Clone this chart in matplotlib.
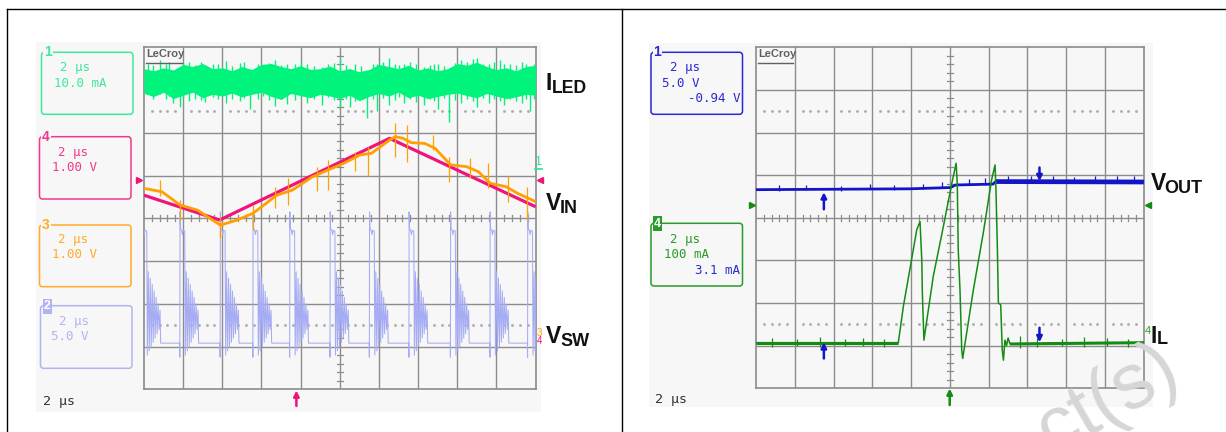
import matplotlib
matplotlib.use("Agg")
import matplotlib.pyplot as plt
from matplotlib.patches import FancyBboxPatch, Rectangle

# ---------------- data (time in us, 2 us/div; level in screen divisions, 0 = bottom, 8 = top) ----------------
iled_t = [0.0, 0.5, 1.0, 1.5, 2.0, 2.5, 3.0, 3.5, 4.0, 4.5, 5.0, 5.5, 6.0, 6.5, 7.0, 7.5, 8.0, 8.5, 9.0, 9.5,
          10.0, 10.5, 11.0, 11.5, 12.0, 12.5, 13.0, 13.5, 14.0, 14.5, 15.0, 15.5, 16.0, 16.5, 17.0, 17.5,
          18.0, 18.5, 19.0, 19.5, 20.0]
iled_hi = [7.50, 7.45, 7.52, 7.47, 7.60, 7.55, 7.62, 7.50, 7.52, 7.45, 7.55, 7.48, 7.60, 7.62, 7.55, 7.50,
           7.57, 7.48, 7.50, 7.56, 7.45, 7.50, 7.43, 7.48, 7.60, 7.55, 7.50, 7.58, 7.47, 7.52, 7.45, 7.50,
           7.62, 7.58, 7.65, 7.55, 7.48, 7.52, 7.45, 7.55, 7.58]
iled_lo = [6.92, 6.85, 6.95, 6.80, 6.88, 6.95, 6.82, 6.90, 6.86, 6.93, 6.84, 6.90, 6.95, 6.85, 6.78, 6.92,
           6.87, 6.82, 6.90, 6.86, 6.80, 6.88, 6.75, 6.85, 6.92, 6.86, 6.95, 6.82, 6.88, 6.80, 6.85, 6.90,
           6.93, 6.87, 6.82, 6.92, 6.86, 6.80, 6.84, 6.90, 6.88]
iled_spk_t = [0.2, 0.45, 0.8, 1.1, 1.3, 1.5, 1.82, 2.0, 2.3, 2.6, 2.9, 3.1, 3.5, 3.8, 4.2, 4.5, 4.9, 5.1,
              5.4, 5.8, 6.1, 6.4, 6.7, 7.0, 7.3, 7.7, 8.0, 8.3, 8.7, 9.1, 9.4, 9.7, 10.0, 10.3, 10.5, 10.8,
              11.1, 11.4, 11.7, 11.9, 12.2, 12.5, 12.8, 13.0, 13.3, 13.6, 13.9, 14.3, 14.6, 14.8, 15.0,
              15.3, 15.6, 15.9, 16.2, 16.5, 16.8, 17.0, 17.3, 17.6, 17.9, 18.2, 18.4, 18.7, 19.0, 19.3,
              19.5, 19.7, 19.9]
iled_spk_lo = [7.00, 6.80, 6.90, 6.78, 6.85, 6.70, 6.61, 6.82, 6.75, 6.80, 6.76, 6.72, 6.84, 6.78, 6.70,
               6.80, 6.74, 6.82, 6.55, 6.78, 6.85, 6.76, 6.62, 6.80, 6.68, 6.77, 6.83, 6.70, 6.79, 6.65,
               6.84, 6.76, 6.60, 6.80, 6.60, 6.74, 6.82, 6.34, 6.78, 6.50, 6.81, 6.65, 6.76, 6.84, 6.70,
               6.78, 6.72, 6.65, 6.80, 6.75, 6.55, 6.82, 6.26, 6.77, 6.70, 6.80, 6.74, 6.60, 6.82, 6.70,
               6.78, 6.75, 6.65, 6.80, 6.74, 6.70, 6.78, 6.50, 6.80]
iled_spk_hi = [7.62, 7.58, 7.70, 7.60, 7.66, 7.40, 7.30, 7.64, 7.66, 7.58, 7.65, 7.50, 7.62, 7.60, 7.68,
               7.57, 7.63, 7.66, 7.50, 7.60, 7.58, 7.64, 7.70, 7.58, 7.60, 7.62, 7.66, 7.62, 7.57, 7.55,
               7.60, 7.64, 7.72, 7.58, 7.50, 7.60, 7.56, 7.40, 7.62, 7.60, 7.66, 7.75, 7.62, 7.58, 7.60,
               7.66, 7.60, 7.55, 7.58, 7.62, 7.62, 7.57, 7.40, 7.64, 7.70, 7.66, 7.72, 7.75, 7.62, 7.60,
               7.66, 7.70, 7.60, 7.62, 7.58, 7.65, 7.60, 7.50, 7.62]

vin_t = [0.0, 3.86, 12.54, 20.0]
vin_v = [4.54, 3.96, 5.87, 4.27]

orange_t = [0.0, 0.92, 1.84, 2.74, 3.36, 3.90, 4.76, 5.58, 6.78, 7.58, 8.60, 9.40, 10.22, 11.02, 11.62,
            12.54, 12.84, 13.24, 13.64, 14.34, 14.86, 15.66, 16.46, 17.08, 17.68, 18.48, 19.10, 20.0]
orange_v = [4.70, 4.62, 4.31, 4.19, 4.00, 3.84, 3.96, 4.12, 4.54, 4.66, 4.97, 5.13, 5.29, 5.48, 5.52,
            5.83, 5.91, 5.87, 5.77, 5.75, 5.64, 5.25, 5.21, 5.09, 4.82, 4.74, 4.58, 4.39]
orange_spk_t = [0.82, 1.84, 3.90, 5.56, 6.68, 7.36, 8.82, 9.42, 10.78, 11.46, 12.82, 13.42, 14.76, 15.60,
                16.66, 17.58, 18.60, 19.54]
orange_spk_lo = [4.51, 3.96, 3.53, 3.73, 4.24, 4.31, 4.65, 4.66, 5.10, 5.00, 5.43, 5.32, 5.60, 4.86, 4.95,
                 4.71, 4.39, 3.96]
orange_spk_hi = [4.90, 4.43, 4.04, 4.31, 4.74, 4.94, 5.20, 5.37, 5.55, 5.66, 6.23, 6.18, 5.95, 5.44, 5.40,
                 5.29, 5.00, 4.74]

# switching node: rising-edge times and the shape of one switching cycle after each rise
vsw_rise = [-0.10, 1.84, 3.90, 5.57, 7.45, 9.51, 11.52, 13.54, 15.66, 17.68, 19.60]
vsw_cycle_dt = [-0.02, -0.01, 0.00, 0.02, 0.08, 0.12, 0.16, 0.24, 0.27, 0.32, 0.37, 0.42, 0.47, 0.52, 0.57,
                0.62, 0.67, 0.72, 0.77, 0.82, 0.87, 0.92, 0.95]
vsw_cycle_v = [1.08, 0.75, 4.15, 3.76, 3.72, 3.62, 3.72, 3.70, 0.80, 2.75, 0.90, 2.60, 1.00, 2.45, 1.10,
               2.30, 1.20, 2.15, 1.30, 2.00, 1.40, 1.85, 1.08]
vsw_low = 1.08

# right panel
vout_t = [0.0, 7.94, 10.03, 10.29, 12.22, 12.36, 20.0]
vout_v = [4.66, 4.68, 4.71, 4.77, 4.79, 4.85, 4.84]
vout_spk_t = [1.2, 2.6, 4.4, 5.9, 7.1, 8.6, 9.6, 11.0, 11.8, 13.0, 14.2, 15.3, 16.4, 17.5, 18.6, 19.5]
vout_spk_hi = [4.76, 4.78, 4.75, 4.79, 4.77, 4.80, 4.84, 4.90, 4.93, 4.98, 4.97, 4.99, 4.96, 4.98, 4.97, 4.99]

il_t = [0.0, 7.34, 7.60, 8.02, 8.29, 8.46, 8.55, 8.58, 8.66, 9.14, 9.66, 10.10, 10.32, 10.38, 10.43, 10.52,
        10.61, 10.66, 11.21, 11.72, 12.15, 12.33, 12.38, 12.45, 12.50, 12.62, 12.70, 12.76, 12.84, 12.92,
        13.00, 13.10, 20.0]
il_v = [1.07, 1.07, 1.92, 3.01, 3.72, 3.91, 3.01, 2.23, 1.13, 2.62, 3.79, 4.81, 5.28, 4.81, 3.25, 2.31,
        0.90, 0.70, 2.31, 3.64, 4.89, 5.24, 4.58, 3.25, 2.00, 1.96, 0.90, 0.66, 1.13, 1.00, 1.18, 1.04, 1.07]
il_spk_t = [0.8, 2.1, 3.3, 4.6, 5.5, 6.6, 13.6, 14.5, 15.8, 16.9, 18.1, 19.2]
il_spk_lo = [0.98, 1.00, 0.97, 1.00, 0.99, 0.98, 0.95, 0.98, 1.00, 0.97, 0.99, 0.98]
il_spk_hi = [1.18, 1.16, 1.20, 1.15, 1.17, 1.16, 1.22, 1.18, 1.16, 1.20, 1.17, 1.16]

# ---------------- styles ----------------
W, H, DPI = 1226, 432, 100
BG = "#f7f7f7"
GRID = "#8c8c8c"
C_ILED = "#00f47c"
C_VIN = "#f0147a"
C_ORG = "#ffa000"
C_VSW = "#a6acf4"
C_BLU = "#1414c8"
C_IL = "#148c14"

fig = plt.figure(figsize=(W / DPI, H / DPI), dpi=DPI)
fig.patch.set_facecolor("white")

bgax = fig.add_axes([0, 0, 1, 1], zorder=0)
bgax.set_xlim(0, W); bgax.set_ylim(H, 0); bgax.axis("off")
ov = fig.add_axes([0, 0, 1, 1], zorder=3)
ov.set_xlim(0, W); ov.set_ylim(H, 0); ov.axis("off"); ov.patch.set_alpha(0)

# scope screenshot backgrounds
bgax.add_patch(Rectangle((35.6, 42), 505.4, 370, facecolor=BG, edgecolor="none"))
bgax.add_patch(Rectangle((649, 43), 503.7, 364, facecolor=BG, edgecolor="none"))
# page frame
bgax.plot([7, W], [9, 9], color="black", lw=1.0)
bgax.plot([7, 7], [9, H], color="black", lw=1.0)
bgax.plot([622, 622], [9, H], color="black", lw=1.0)


def px_axes(x0, y0, x1, y1):
    return fig.add_axes([x0 / W, 1 - y1 / H, (x1 - x0) / W, (y1 - y0) / H], zorder=1)


def scope(ax):
    ax.set_xlim(0, 20); ax.set_ylim(0, 8)
    ax.set_facecolor(BG)
    ax.set_xticks([]); ax.set_yticks([])
    for s in ax.spines.values():
        s.set_color(GRID); s.set_linewidth(1.2)
    for k in range(1, 10):
        ax.axvline(2 * k, color=GRID, lw=1.0, zorder=1)
    for k in range(1, 8):
        ax.axhline(k, color=GRID, lw=1.0, zorder=1)
    # center-line minor ticks
    for k in range(50):
        x = 0.4 * k
        if k % 5:
            ax.plot([x, x], [3.93, 4.07], color=GRID, lw=0.9, zorder=1)
    for k in range(40):
        y = 0.2 * k
        if k % 5:
            ax.plot([9.85, 10.15], [y, y], color=GRID, lw=0.9, zorder=1)
    # dotted reference levels
    xs = [0.4 * k for k in range(50) if k % 5]
    for lvl in (6.5, 1.5):
        ax.plot(xs, [lvl] * len(xs), ls="none", marker="s", ms=0.9, color="#aaaaaa", zorder=1)
    ax.text(0.12, 7.97, "LeCroy", fontsize=8, fontweight="bold", color="#606060",
            family="Liberation Sans", va="top", ha="left", zorder=8)
    ax.plot([0.1, 1.92], [7.63, 7.63], color="#606060", lw=1.0, zorder=8)


# ---------------- left scope ----------------
axL = px_axes(144, 47.3, 535.6, 389.3)
scope(axL)

vsw_t, vsw_v = [], []
for i, r in enumerate(vsw_rise):
    nxt = vsw_rise[i + 1] if i + 1 < len(vsw_rise) else 22.0
    for dt, v in zip(vsw_cycle_dt, vsw_cycle_v):
        vsw_t.append(r + dt); vsw_v.append(v)
    vsw_t.append(nxt - 0.03); vsw_v.append(vsw_low)
axL.plot(vsw_t, vsw_v, color=C_VSW, lw=0.75, zorder=3)

axL.fill_between(iled_t, iled_lo, iled_hi, color=C_ILED, lw=0, zorder=3)
axL.vlines(iled_spk_t, iled_spk_lo, iled_spk_hi, color=C_ILED, lw=1.0, zorder=3)

axL.plot(vin_t, vin_v, color=C_VIN, lw=2.3, zorder=4, solid_capstyle="butt")
axL.plot(orange_t, orange_v, color=C_ORG, lw=2.0, zorder=5, solid_capstyle="butt")
axL.vlines(orange_spk_t, orange_spk_lo, orange_spk_hi, color=C_ORG, lw=0.9, zorder=5)

# ---------------- right scope ----------------
axR = px_axes(756, 47.3, 1143.8, 388.3)
scope(axR)
axR.plot(vout_t, vout_v, color=C_BLU, lw=2.0, zorder=4, solid_capstyle="butt")
axR.plot(vout_t[5:], vout_v[5:], color=C_BLU, lw=3.4, zorder=4, solid_capstyle="butt")
axR.vlines(vout_spk_t, [v - 0.12 for v in vout_spk_hi], vout_spk_hi, color=C_BLU, lw=0.9, zorder=4)
axR.plot(il_t, il_v, color=C_IL, lw=1.1, zorder=4)
axR.plot([il_t[0], il_t[1]], [il_v[0], il_v[1]], color=C_IL, lw=2.2, zorder=4, solid_capstyle="butt")
axR.plot([il_t[-2], il_t[-1]], [il_v[-2], il_v[-1]], color=C_IL, lw=2.2, zorder=4, solid_capstyle="butt")
axR.vlines(il_spk_t, il_spk_lo, il_spk_hi, color=C_IL, lw=0.9, zorder=4)

arrow_kw = dict(arrowstyle="-|>", color=C_BLU, lw=1.8, mutation_scale=8, shrinkA=0, shrinkB=0)
axR.annotate("", xy=(3.5, 4.60), xytext=(3.5, 4.20), arrowprops=arrow_kw, zorder=6)
axR.annotate("", xy=(3.5, 1.08), xytext=(3.5, 0.70), arrowprops=arrow_kw, zorder=6)
axR.annotate("", xy=(14.62, 4.86), xytext=(14.62, 5.18), arrowprops=arrow_kw, zorder=6)
axR.annotate("", xy=(14.62, 1.08), xytext=(14.62, 1.42), arrowprops=arrow_kw, zorder=6)

# ---------------- channel boxes ----------------
MONO = "DejaVu Sans Mono"


def chan_box(x0, y0, x1, y1, col, num, lines, filled=False):
    ov.add_patch(FancyBboxPatch((x0, y0), x1 - x0, y1 - y0, boxstyle="round,pad=0,rounding_size=3",
                                facecolor="none", edgecolor=col, lw=1.1))
    if filled:
        ov.add_patch(Rectangle((x0 + 2, y0 - 7), 9, 15, facecolor=col, edgecolor="none"))
        ov.text(x0 + 6.5, y0 + 0.5, num, color="white", fontsize=9, fontweight="bold",
                family="Liberation Sans", ha="center", va="center")
    else:
        ov.text(x0 + 6.5, y0, num, color=col, fontsize=10, fontweight="bold", family="Liberation Sans",
                ha="center", va="center",
                bbox=dict(boxstyle="square,pad=0.05", facecolor=BG, edgecolor="none"))
    for txt, x, y, c, ha in lines:
        ov.text(x, y, txt, color=c, fontsize=9, family=MONO, ha=ha, va="center")


chan_box(41.5, 52.3, 133, 114.3, "#3ee89c", "1",
         [("2 μs", 60.5, 67.7, "#3ee89c", "left"), ("10.0 mA", 54, 83.3, "#3ee89c", "left")])
chan_box(39.5, 136.7, 131, 199, "#ee3a8c", "4",
         [("2 μs", 58.5, 152.3, "#ee3a8c", "left"), ("1.00 V", 51.8, 167.3, "#ee3a8c", "left")])
chan_box(39.5, 225, 131, 286.7, "#ffaa2a", "3",
         [("2 μs", 58.5, 240, "#ffaa2a", "left"), ("1.00 V", 51.8, 255, "#ffaa2a", "left")])
chan_box(40.5, 305.7, 132, 368.3, "#b0b4f2", "2",
         [("2 μs", 59, 321.7, "#b0b4f2", "left"), ("5.0 V", 51.4, 336.7, "#b0b4f2", "left")], filled=True)
chan_box(651, 52.3, 742.5, 114.3, "#2a2ad0", "1",
         [("2 μs", 670, 67.7, "#2a2ad0", "left"), ("5.0 V", 662.5, 83.3, "#2a2ad0", "left"),
          ("-0.94 V", 741, 98.3, "#2a2ad0", "right")])
chan_box(651, 223.3, 742.5, 286, "#2a9a2a", "4",
         [("2 μs", 670, 239.3, "#2a9a2a", "left"), ("100 mA", 663.5, 254.3, "#2a9a2a", "left"),
          ("3.1 mA", 740, 270, "#2a2ad0", "right")], filled=True)

ov.text(42.7, 401.7, "2 μs", fontsize=9.5, family=MONO, color="#333333", va="center")
ov.text(655, 400, "2 μs", fontsize=9.5, family=MONO, color="#333333", va="center")

# ---------------- edge markers ----------------
ov.plot([139], [180], marker=">", ms=5, color=C_VIN, ls="none")
ov.plot([540], [180], marker="<", ms=5, color=C_VIN, ls="none")
ov.text(538, 162, "1", fontsize=9, color="#20e890", ha="center", va="center", family="Liberation Sans")
ov.plot([534.5, 541.5], [169, 169], color="#20e890", lw=1.2)
ov.text(539, 333, "3", fontsize=7, color=C_ORG, ha="center", va="center", family="Liberation Sans")
ov.text(539.5, 341, "4", fontsize=7, color=C_VIN, ha="center", va="center", family="Liberation Sans")
ov.annotate("", xy=(296.4, 390.5), xytext=(296.4, 406),
            arrowprops=dict(arrowstyle="-|>", color=C_VIN, lw=1.8, mutation_scale=8, shrinkA=0, shrinkB=0))

ov.plot([751.5], [205], marker=">", ms=5, color=C_IL, ls="none")
ov.plot([1147.5], [205], marker="<", ms=5, color=C_IL, ls="none")
ov.text(1147.5, 331, "4", fontsize=8, color="#2aa02a", ha="center", va="center", family="Liberation Sans")
ov.annotate("", xy=(949.7, 388.5), xytext=(949.7, 405),
            arrowprops=dict(arrowstyle="-|>", color=C_IL, lw=1.8, mutation_scale=8, shrinkA=0, shrinkB=0))

# ---------------- signal names ----------------
LBL = dict(color="#111111", fontweight="bold", family="Liberation Sans", va="baseline", ha="left")
ov.text(545.5, 90.5, "I", fontsize=16.5, **LBL)
ov.text(551.5, 93.3, "LED", fontsize=12.7, **LBL)
ov.text(545.5, 209.5, "V", fontsize=16.5, **LBL)
ov.text(560.0, 212.7, "IN", fontsize=13, **LBL)
ov.text(545.5, 342.7, "V", fontsize=16.5, **LBL)
ov.text(560.0, 346.0, "SW", fontsize=13, **LBL)
ov.text(1150.5, 190.0, "V", fontsize=16.5, **LBL)
ov.text(1164.0, 193.3, "OUT", fontsize=13, **LBL)
ov.text(1150.5, 343.3, "I", fontsize=16.5, **LBL)
ov.text(1156.5, 344.0, "L", fontsize=13, **LBL)

# ---------------- watermark (partly outside the page, as in the source) ----------------
ov.text(1108, 400, "ct(s)", rotation=30, fontsize=56, color="#d6d6d6", ha="center", va="center",
        family="Liberation Sans", zorder=10)

fig.savefig("out.png", dpi=DPI, facecolor="white")
